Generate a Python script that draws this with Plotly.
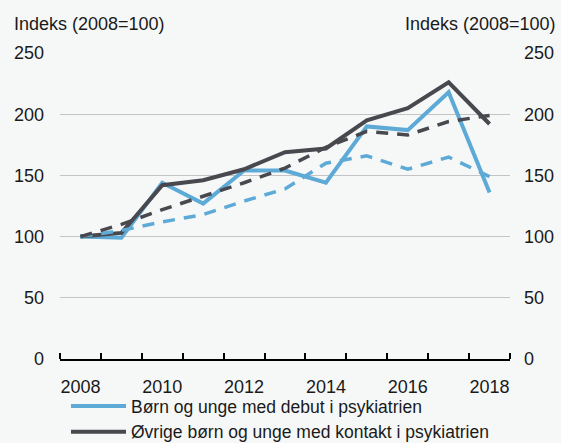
import plotly.graph_objects as go

years = [2008, 2009, 2010, 2011, 2012, 2013, 2014, 2015, 2016, 2017, 2018]
debut = [100, 99, 144, 127, 154, 154, 144, 190, 187, 218, 136]
ovrige = [100, 103, 142, 146, 155, 169, 172, 195, 205, 226, 192]
debut_trend = [100, 105, 112, 118, 129, 139, 160, 166, 155, 165, 149]
ovrige_trend = [100, 110, 122, 133, 144, 156, 173, 186, 183, 194, 199]
name_debut = "Børn og unge med debut i psykiatrien"
name_ovrige = "Øvrige børn og unge med kontakt i psykiatrien"
xlabels = [2008, 2010, 2012, 2014, 2016, 2018]
yticks = [0, 50, 100, 150, 200, 250]
ytitle = "Indeks (2008=100)"

BLUE = "#5eaad7"
DARK = "#48484e"
BG = "#f6f8f8"
FONT = "Liberation Sans, Arial, sans-serif"
W, H = 561, 443

fig = go.Figure()
fig.add_trace(go.Scatter(x=years, y=debut, mode="lines", name=name_debut,
                         line=dict(color=BLUE, width=4)))
fig.add_trace(go.Scatter(x=years, y=ovrige, mode="lines", name=name_ovrige,
                         line=dict(color=DARK, width=4)))
fig.add_trace(go.Scatter(x=years, y=debut_trend, mode="lines", showlegend=False,
                         line=dict(color=BLUE, width=3.5, dash="12px,9px")))
fig.add_trace(go.Scatter(x=years, y=ovrige_trend, mode="lines", showlegend=False,
                         line=dict(color=DARK, width=3.5, dash="12px,9px")))
# invisible trace for right axis
fig.add_trace(go.Scatter(x=[years[0]], y=[0], yaxis="y2", mode="markers",
                         marker=dict(opacity=0), showlegend=False, hoverinfo="skip"))

xdom = [60 / W, 510 / W]
ydom = [(H - 359) / H, (H - 53) / H]

fig.update_layout(
    width=W, height=H,
    margin=dict(l=0, r=0, t=0, b=0, autoexpand=False),
    paper_bgcolor=BG, plot_bgcolor=BG,
    font=dict(family=FONT, size=18, color="#1a1a1a"),
    xaxis=dict(domain=xdom, range=[2007.5, 2018.5], tickvals=xlabels,
               ticks="", showgrid=False, zeroline=False,
               showline=True, linecolor="black", linewidth=2,
               ticklabelstandoff=10, automargin=False,
               minor=dict(tickvals=[y - 0.5 for y in years] + [2018.5],
                          ticks="inside", ticklen=6, tickcolor="black",
                          tickwidth=1.5, showgrid=False)),
    yaxis=dict(domain=ydom, range=[0, 250], tickvals=yticks,
               showgrid=True, gridcolor="#c4c4c4", gridwidth=1,
               zeroline=False, showline=False, ticks="",
               ticklabelstandoff=15, automargin=False),
    yaxis2=dict(overlaying="y", side="right", range=[0, 250], tickvals=yticks,
                showgrid=False, zeroline=False, showline=False, ticks="",
                ticklabelstandoff=13, automargin=False, anchor="x"),
    legend=dict(x=66 / W, xanchor="left", y=(H - 388) / H, yanchor="top",
                bgcolor="rgba(0,0,0,0)", itemwidth=55,
                font=dict(size=17.5, family=FONT), tracegroupgap=0),
    showlegend=True,
    annotations=[
        dict(text=ytitle, xref="paper", yref="paper", x=12 / W, xanchor="left",
             y=(H - 24) / H, yanchor="middle", showarrow=False,
             font=dict(size=18, family=FONT, color="#1a1a1a")),
        dict(text=ytitle, xref="paper", yref="paper", x=558 / W, xanchor="right",
             y=(H - 24) / H, yanchor="middle", showarrow=False,
             font=dict(size=18, family=FONT, color="#1a1a1a")),
    ],
)

fig.write_html(
    "out.html",
    config={"displayModeBar": False},
    post_script="document.body.style.margin='0';document.body.style.overflow='hidden';",
)
